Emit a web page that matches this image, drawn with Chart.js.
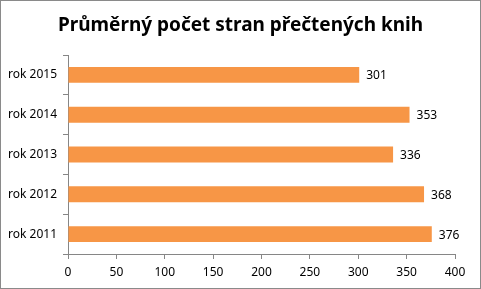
<!DOCTYPE html>
<html>
<head>
<meta charset="utf-8">
<script src="https://cdn.jsdelivr.net/npm/chart.js@4"></script>
<style>
  html, body { margin: 0; padding: 0; background: #fff; }
  #box { width: 479px; height: 287px; border: 1px solid #8a8a8a; position: relative; }
  canvas { display: block; }
</style>
</head>
<body>
<div id="box"><canvas id="chart" width="479" height="287"></canvas></div>
<script>
// chart data
const chartTitle = "Průměrný počet stran přečtených knih"
const years = ["rok 2015", "rok 2014", "rok 2013", "rok 2012", "rok 2011"]
const pages = [301, 353, 336, 368, 376]
const xTicks = [0, 50, 100, 150, 200, 250, 300, 350, 400]

const barColor = '#F79646'
const axisColor = '#868686'
const labelFont = { family: 'Noto Sans', size: 12 }

// writes the value just past the end of each bar
const valueLabels = {
  id: 'valueLabels',
  afterDatasetsDraw(chart) {
    const ctx = chart.ctx
    const meta = chart.getDatasetMeta(0)
    ctx.save()
    ctx.font = '12px "Noto Sans"'
    ctx.fillStyle = '#000'
    ctx.textAlign = 'left'
    ctx.textBaseline = 'middle'
    meta.data.forEach((bar, i) => {
      ctx.fillText(String(pages[i]), bar.x + 7, bar.y + 1)
    })
    ctx.restore()
  }
}

// title centred on the whole canvas, not on the padded box
const centredTitle = {
  id: 'centredTitle',
  afterDraw(chart) {
    const ctx = chart.ctx
    ctx.save()
    ctx.font = 'bold 19px "Noto Sans"'
    ctx.fillStyle = '#000'
    ctx.textAlign = 'center'
    ctx.textBaseline = 'middle'
    ctx.fillText(chartTitle, chart.width / 2, 25)
    ctx.restore()
  }
}

const data = {
  labels: years,
  datasets: [{
    data: pages,
    backgroundColor: barColor,
    borderWidth: 0,
    barPercentage: 0.4,
    categoryPercentage: 1.0
  }]
}

const config = {
  type: 'bar',
  data,
  options: {
    indexAxis: 'y',
    responsive: false,
    animation: false,
    layout: { padding: { left: 0, right: 25, top: 54, bottom: 0 } },
    plugins: {
      legend: { display: false },
      tooltip: { enabled: false },
      title: { display: false }
    },
    scales: {
      x: {
        min: 0,
        max: 400,
        afterBuildTicks: s => { s.ticks = xTicks.map(v => ({ value: v })) },
        afterFit: s => { s.height = 34 },
        grid: { drawOnChartArea: false, drawTicks: true, tickLength: 5, color: axisColor },
        border: { display: true, color: axisColor },
        ticks: { color: '#000', font: labelFont, padding: 6, maxRotation: 0 }
      },
      y: {
        afterFit: s => { s.width = 67 },
        grid: { drawOnChartArea: false, drawTicks: true, tickLength: 5, color: axisColor, offset: true },
        border: { display: true, color: axisColor },
        ticks: { color: '#000', font: labelFont, padding: 6 }
      }
    }
  },
  plugins: [valueLabels, centredTitle]
}

new Chart(document.getElementById('chart'), config)
</script>
</body>
</html>
